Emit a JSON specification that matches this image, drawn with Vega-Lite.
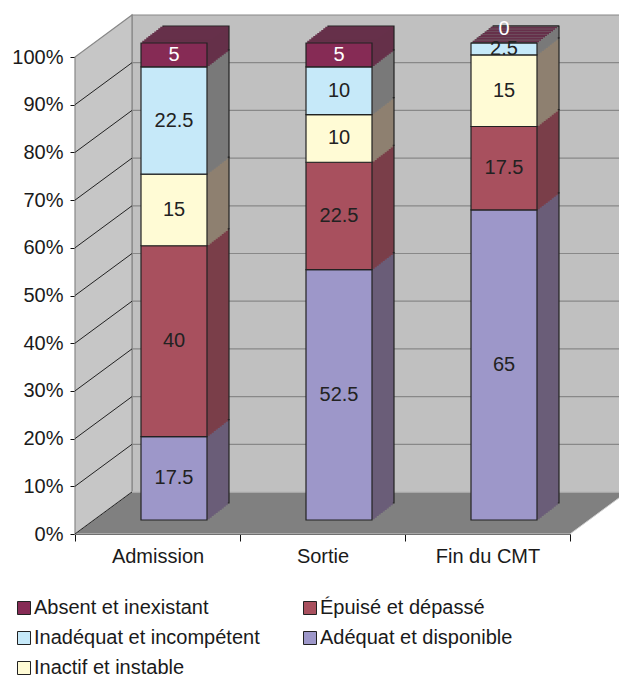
{
  "$schema": "https://vega.github.io/schema/vega-lite/v6.json",
  "width": 495,
  "height": 477,
  "autosize": {"type": "none"},
  "padding": {"left": 75, "top": 57, "right": 49, "bottom": 145},
  "background": "white",
  "config": {
    "view": {"stroke": null},
    "font": "Liberation Sans",
    "axisX": {"domainColor": "#111111", "domainWidth": 1, "tickColor": "#111111", "tickSize": 7, "tickBand": "extent", "labelFontSize": 20, "labelColor": "#1a1a1a", "labelPadding": 5, "labelAngle": 0, "grid": false, "zindex": 1, "labelFont": "Liberation Sans"},
    "axisY": {"domainColor": "#111111", "domainWidth": 1, "tickColor": "#111111", "tickSize": 5, "labelFontSize": 20, "labelColor": "#1a1a1a", "labelPadding": 7, "grid": false, "zindex": 1, "labelOverlap": false, "labelFont": "Liberation Sans"}
  },
  "datasets": {
    "d": [
      {"cat": "Admission", "serie": "Adéquat et disponible", "k": 1, "v": 17.5},
      {"cat": "Admission", "serie": "Épuisé et dépassé", "k": 2, "v": 40},
      {"cat": "Admission", "serie": "Inactif et instable", "k": 3, "v": 15},
      {"cat": "Admission", "serie": "Inadéquat et incompétent", "k": 4, "v": 22.5},
      {"cat": "Admission", "serie": "Absent et inexistant", "k": 5, "v": 5},
      {"cat": "Sortie", "serie": "Adéquat et disponible", "k": 1, "v": 52.5},
      {"cat": "Sortie", "serie": "Épuisé et dépassé", "k": 2, "v": 22.5},
      {"cat": "Sortie", "serie": "Inactif et instable", "k": 3, "v": 10},
      {"cat": "Sortie", "serie": "Inadéquat et incompétent", "k": 4, "v": 10},
      {"cat": "Sortie", "serie": "Absent et inexistant", "k": 5, "v": 5},
      {"cat": "Fin du CMT", "serie": "Adéquat et disponible", "k": 1, "v": 65},
      {"cat": "Fin du CMT", "serie": "Épuisé et dépassé", "k": 2, "v": 17.5},
      {"cat": "Fin du CMT", "serie": "Inactif et instable", "k": 3, "v": 15},
      {"cat": "Fin du CMT", "serie": "Inadéquat et incompétent", "k": 4, "v": 2.5},
      {"cat": "Fin du CMT", "serie": "Absent et inexistant", "k": 5, "v": 0}
    ]
  },
  "layer": [
    {
      "data": {"values": [{}]},
      "mark": {"type": "point", "filled": true, "opacity": 1, "size": 4, "fill": "#c0c0c0", "stroke": "#888888", "strokeWidth": 1.2,
        "shape": "M-190.5,-280.5L304.5,-280.5L304.5,196.5L-190.5,196.5ZM-190.5,148.8L304.5,148.8M-190.5,101.1L304.5,101.1M-190.5,53.4L304.5,53.4M-190.5,5.7L304.5,5.7M-190.5,-42L304.5,-42M-190.5,-89.7L304.5,-89.7M-190.5,-137.4L304.5,-137.4M-190.5,-185.1L304.5,-185.1M-190.5,-232.8L304.5,-232.8"},
      "encoding": {}
    },
    {
      "data": {"values": [{}]},
      "mark": {"type": "point", "filled": true, "opacity": 1, "size": 4, "fill": "#c6c6c6", "stroke": "#888888", "strokeWidth": 1.2,
        "shape": "M-247.5,238.5L-247.5,-238.5L-190.5,-280.5L-190.5,196.5Z"},
      "encoding": {}
    },
    {
      "data": {"values": [{}]},
      "mark": {"type": "point", "filled": true, "opacity": 1, "size": 4, "fill": "#808080", "stroke": "#d0d0d0", "strokeWidth": 1,
        "shape": "M-247.5,238.5L247.5,238.5L304.5,196.5L-190.5,196.5Z"},
      "encoding": {}
    },
    {
      "data": {"values": [{}]},
      "mark": {"type": "point", "filled": false, "opacity": 1, "size": 4, "stroke": "#222222", "strokeWidth": 1,
        "shape": "M-247.5,238.5L-190.5,196.5M-247.5,190.8L-190.5,148.8M-247.5,143.1L-190.5,101.1M-247.5,95.4L-190.5,53.4M-247.5,47.7L-190.5,5.7M-247.5,0L-190.5,-42M-247.5,-47.7L-190.5,-89.7M-247.5,-95.4L-190.5,-137.4M-247.5,-143.1L-190.5,-185.1M-247.5,-190.8L-190.5,-232.8"},
      "encoding": {}
    },
    {
      "data": {"name": "d"},
      "transform": [{"stack": "v", "groupby": ["cat"], "sort": [{"field": "k"}], "as": ["y0", "y1"]}],
      "encoding": {
        "x": {"field": "cat", "type": "nominal", "sort": ["Admission", "Sortie", "Fin du CMT"], "scale": {"paddingInner": 0, "paddingOuter": 0}, "axis": {"title": null}},
        "y": {"field": "y1", "type": "quantitative", "scale": {"domain": [0, 100], "nice": false}, "axis": {"title": null, "values": [0, 10, 20, 30, 40, 50, 60, 70, 80, 90, 100], "labelExpr": "datum.value + '%'", "labelOverlap": false}},
        "y2": {"field": "y0"}
      },
      "layer": [
        {"mark": {"type": "bar", "width": {"band": 0.4}, "xOffset": 38.5, "yOffset": -31, "y2Offset": -31, "stroke": "#222222", "strokeWidth": 1.2},
         "encoding": {"fill": {"field": "serie", "type": "nominal", "scale": {"domain": ["Adéquat et disponible", "Épuisé et dépassé", "Inactif et instable", "Inadéquat et incompétent", "Absent et inexistant"], "range": ["#6b5e78", "#7b3f4a", "#8e8070", "#7a7a7a", "#66304a"]}, "legend": null}}},
        {"mark": {"type": "bar", "width": {"band": 0.4}, "xOffset": 36.5, "yOffset": -29.45, "y2Offset": -29.45, "strokeWidth": 1.5},
         "encoding": {"fill": {"field": "serie", "type": "nominal", "legend": null}, "stroke": {"field": "serie", "type": "nominal", "scale": {"domain": ["Adéquat et disponible", "Épuisé et dépassé", "Inactif et instable", "Inadéquat et incompétent", "Absent et inexistant"], "range": ["#6b5e78", "#7b3f4a", "#8e8070", "#7a7a7a", "#66304a"]}, "legend": null}}},
        {"mark": {"type": "bar", "width": {"band": 0.4}, "xOffset": 34.5, "yOffset": -27.91, "y2Offset": -27.91, "strokeWidth": 1.5},
         "encoding": {"fill": {"field": "serie", "type": "nominal", "legend": null}, "stroke": {"field": "serie", "type": "nominal", "legend": null}}},
        {"mark": {"type": "bar", "width": {"band": 0.4}, "xOffset": 32.5, "yOffset": -26.36, "y2Offset": -26.36, "strokeWidth": 1.5},
         "encoding": {"fill": {"field": "serie", "type": "nominal", "legend": null}, "stroke": {"field": "serie", "type": "nominal", "legend": null}}},
        {"mark": {"type": "bar", "width": {"band": 0.4}, "xOffset": 30.5, "yOffset": -24.82, "y2Offset": -24.82, "strokeWidth": 1.5},
         "encoding": {"fill": {"field": "serie", "type": "nominal", "legend": null}, "stroke": {"field": "serie", "type": "nominal", "legend": null}}},
        {"mark": {"type": "bar", "width": {"band": 0.4}, "xOffset": 28.5, "yOffset": -23.27, "y2Offset": -23.27, "strokeWidth": 1.5},
         "encoding": {"fill": {"field": "serie", "type": "nominal", "legend": null}, "stroke": {"field": "serie", "type": "nominal", "legend": null}}},
        {"mark": {"type": "bar", "width": {"band": 0.4}, "xOffset": 26.5, "yOffset": -21.73, "y2Offset": -21.73, "strokeWidth": 1.5},
         "encoding": {"fill": {"field": "serie", "type": "nominal", "legend": null}, "stroke": {"field": "serie", "type": "nominal", "legend": null}}},
        {"mark": {"type": "bar", "width": {"band": 0.4}, "xOffset": 24.5, "yOffset": -20.18, "y2Offset": -20.18, "strokeWidth": 1.5},
         "encoding": {"fill": {"field": "serie", "type": "nominal", "legend": null}, "stroke": {"field": "serie", "type": "nominal", "legend": null}}},
        {"mark": {"type": "bar", "width": {"band": 0.4}, "xOffset": 22.5, "yOffset": -18.64, "y2Offset": -18.64, "strokeWidth": 1.5},
         "encoding": {"fill": {"field": "serie", "type": "nominal", "legend": null}, "stroke": {"field": "serie", "type": "nominal", "legend": null}}},
        {"mark": {"type": "bar", "width": {"band": 0.4}, "xOffset": 20.5, "yOffset": -17.09, "y2Offset": -17.09, "strokeWidth": 1.5},
         "encoding": {"fill": {"field": "serie", "type": "nominal", "legend": null}, "stroke": {"field": "serie", "type": "nominal", "legend": null}}},
        {"mark": {"type": "bar", "width": {"band": 0.4}, "xOffset": 18.5, "yOffset": -15.55, "y2Offset": -15.55, "strokeWidth": 1.5},
         "encoding": {"fill": {"field": "serie", "type": "nominal", "legend": null}, "stroke": {"field": "serie", "type": "nominal", "legend": null}}},
        {"mark": {"type": "bar", "width": {"band": 0.4}, "xOffset": 16.5, "yOffset": -14, "y2Offset": -14, "stroke": "#222222", "strokeWidth": 1.2},
         "encoding": {"color": {"field": "serie", "type": "nominal",
           "scale": {"domain": ["Absent et inexistant", "Inadéquat et incompétent", "Inactif et instable", "Épuisé et dépassé", "Adéquat et disponible"], "range": ["#862b55", "#c6e9f9", "#fffbd5", "#a8505e", "#9d97c9"]},
           "legend": {"orient": "none", "legendX": -61, "legendY": 541, "columns": 2, "title": null, "symbolType": "square", "symbolSize": 169, "symbolStrokeColor": "#222222", "symbolStrokeWidth": 1, "symbolOpacity": 1, "labelFontSize": 20, "labelColor": "#1a1a1a", "labelFont": "Liberation Sans", "labelLimit": 400, "columnPadding": 40, "rowPadding": 10, "labelOffset": 0, "symbolOffset": 0}}}}
      ]
    },
    {
      "data": {"name": "d"},
      "transform": [
        {"stack": "v", "groupby": ["cat"], "sort": [{"field": "k"}], "as": ["y0", "y1"]},
        {"fold": ["y0", "y1"], "as": ["edge", "pos"]},
        {"aggregate": [{"op": "mean", "field": "pos", "as": "mid"}], "groupby": ["cat", "serie", "v"]}
      ],
      "encoding": {
        "x": {"field": "cat", "type": "nominal", "sort": ["Admission", "Sortie", "Fin du CMT"], "axis": {"title": null}},
        "y": {"field": "mid", "type": "quantitative", "axis": {"title": null}},
        "text": {"field": "v", "type": "quantitative"}
      },
      "layer": [
        {"transform": [{"filter": "datum.v > 0"}],
         "mark": {"type": "text", "xOffset": 16.5, "yOffset": -14, "fontSize": 20, "align": "center", "baseline": "middle", "font": "Liberation Sans"},
         "encoding": {"color": {"condition": {"test": "datum.serie === 'Absent et inexistant'", "value": "#ffffff"}, "value": "#222222"}}},
        {"transform": [{"filter": "datum.v == 0"}],
         "mark": {"type": "text", "xOffset": 16.5, "yOffset": -28, "fontSize": 20, "align": "center", "baseline": "middle", "font": "Liberation Sans", "color": "#ffffff"}}
      ]
    }
  ]
}
